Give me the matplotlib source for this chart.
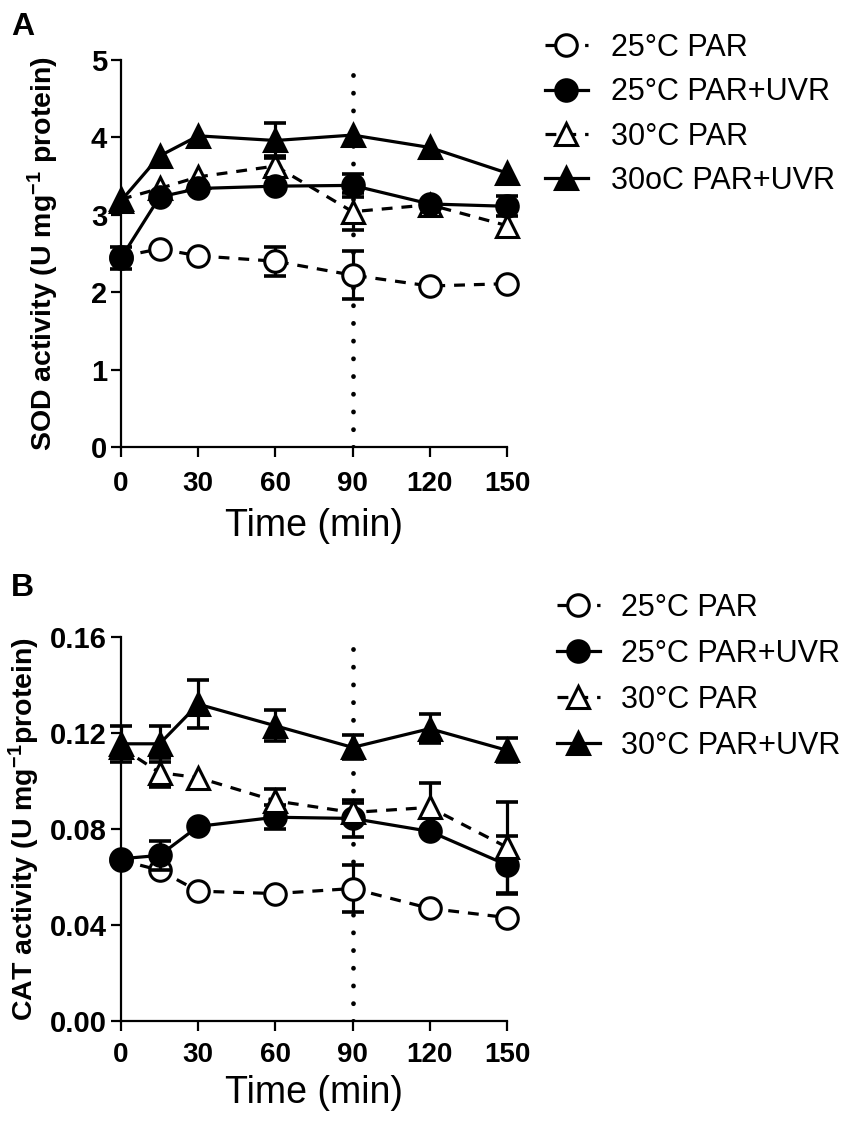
import numpy as np
import matplotlib
matplotlib.use("Agg")
import matplotlib.pyplot as plt

plt.rcParams['font.family'] = ['Liberation Sans', 'DejaVu Sans']
plt.rcParams['mathtext.fontset'] = 'custom'
plt.rcParams['mathtext.rm'] = 'Liberation Sans'
plt.rcParams['mathtext.bf'] = 'Liberation Sans:bold'
plt.rcParams['mathtext.it'] = 'Liberation Sans:italic'

# ---------------- data ----------------
time_min = [0, 15, 30, 60, 90, 120, 150]
light_change_time = 90

# Panel A: SOD activity
sod_25_par = [2.46, 2.56, 2.47, 2.40, 2.22, 2.08, 2.11]
sod_25_par_err = [0, 0, 0, 0.19, 0.31, 0, 0]
sod_25_paruvr = [2.44, 3.23, 3.34, 3.37, 3.38, 3.14, 3.11]
sod_25_paruvr_err = [0.14, 0, 0, 0, 0.15, 0, 0.13]
sod_30_par = [3.20, 3.34, 3.49, 3.63, 3.04, 3.13, 2.86]
sod_30_par_err = [0, 0, 0, 0.13, 0.24, 0, 0]
sod_30_paruvr = [3.18, 3.76, 4.02, 3.96, 4.03, 3.87, 3.54]
sod_30_paruvr_err = [0, 0, 0, 0.22, 0, 0, 0]

# Panel B: CAT activity
cat_25_par = [0.067, 0.0628, 0.0541, 0.0531, 0.0552, 0.0469, 0.0431]
cat_25_par_err = [0, 0, 0, 0, 0.0097, 0, 0]
cat_25_paruvr = [0.0676, 0.0690, 0.0811, 0.0849, 0.0844, 0.0790, 0.0650]
cat_25_paruvr_err = [0, 0.006, 0, 0.005, 0.0077, 0, 0.012]
cat_30_par = [0.114, 0.1035, 0.1014, 0.0917, 0.0869, 0.0890, 0.0724]
cat_30_par_err = [0, 0.0062, 0, 0.005, 0.004, 0.010, 0.019]
cat_30_paruvr = [0.1155, 0.1155, 0.1320, 0.1230, 0.1140, 0.1218, 0.1128]
cat_30_paruvr_err = [0.0075, 0.0075, 0.010, 0.0065, 0.005, 0.006, 0.005]

labels_A = ['25°C PAR', '25°C PAR+UVR', '30°C PAR', '30oC PAR+UVR']
labels_B = ['25°C PAR', '25°C PAR+UVR', '30°C PAR', '30°C PAR+UVR']

x_ticks = [0, 30, 60, 90, 120, 150]
yticks_A = [0, 1, 2, 3, 4, 5]
yticks_B = [0.00, 0.04, 0.08, 0.12, 0.16]

# ---------------- styles ----------------
LW = 2.3
MS = 15.5
MEW = 2.2
DASH = (0, (3.4, 2.8))
styles = [
    dict(marker='o', mfc='white', ls=DASH),
    dict(marker='o', mfc='black', ls='-'),
    dict(marker='^', mfc='white', ls=DASH),
    dict(marker='^', mfc='black', ls='-'),
]

W, H = 851, 1128
fig = plt.figure(figsize=(W / 100, H / 100), dpi=100)
axA = fig.add_axes([121 / W, 1 - 447 / H, 386 / W, 387 / H])
axB = fig.add_axes([121 / W, 1 - 1021 / H, 386 / W, 384 / H])


def draw(ax, series, errs, labels, zorders, xpad, xlabelpad):
    x = np.array(time_min, dtype=float)
    handles = []
    for (y, e, lab, st, z) in zip(series, errs, labels, styles, zorders):
        y = np.array(y, dtype=float)
        e = np.array(e, dtype=float)
        m = e > 0
        if m.any():
            ax.errorbar(x[m], y[m], yerr=e[m], fmt='none', ecolor='black',
                        elinewidth=LW, capsize=8, capthick=2.6,
                        zorder=z, clip_on=False)
        ln, = ax.plot(x, y, color='black', lw=LW, linestyle=st['ls'],
                      marker=st['marker'], ms=MS, mfc=st['mfc'], mec='black',
                      mew=MEW, zorder=z + 0.5, clip_on=False, label=lab,
                      dash_capstyle='butt')
        handles.append(ln)
    ax.axvline(light_change_time, color='black', lw=3.4,
               linestyle=(0, (0.05, 3.7)), dash_capstyle='round', zorder=0.5)
    ax.set_xlim(0, 150)
    ax.set_xticks(x_ticks)
    for s in ['top', 'right']:
        ax.spines[s].set_visible(False)
    for s in ['left', 'bottom']:
        ax.spines[s].set_linewidth(1.6)
    ax.tick_params(axis='both', direction='out', length=7, width=1.6)
    ax.tick_params(axis='x', labelsize=20, pad=xpad)
    ax.tick_params(axis='y', labelsize=21, pad=3)
    for t in ax.get_xticklabels() + ax.get_yticklabels():
        t.set_fontweight('bold')
    ax.set_xlabel('Time (min)', fontsize=27, labelpad=xlabelpad)
    return handles


hA = draw(axA, [sod_25_par, sod_25_paruvr, sod_30_par, sod_30_paruvr],
          [sod_25_par_err, sod_25_paruvr_err, sod_30_par_err, sod_30_paruvr_err],
          labels_A, [2, 4, 3, 5], 10, 8)
axA.set_ylim(0, 5)
axA.set_yticks(yticks_A)
axA.set_yticklabels([str(v) for v in yticks_A])
for t in axA.get_yticklabels():
    t.set_fontweight('bold')
axA.set_ylabel(r'SOD activity (U mg$^{\mathbf{-1}}$ protein)', fontsize=20.5,
               fontweight='bold')
axA.yaxis.set_label_coords(-0.155, 0.5)

hB = draw(axB, [cat_25_par, cat_25_paruvr, cat_30_par, cat_30_paruvr],
          [cat_25_par_err, cat_25_paruvr_err, cat_30_par_err, cat_30_paruvr_err],
          labels_B, [2, 3, 4, 5], 8, 5)
axB.set_ylim(0, 0.16)
axB.set_yticks(yticks_B)
axB.set_yticklabels(['%.2f' % v for v in yticks_B])
for t in axB.get_yticklabels():
    t.set_fontweight('bold')
axB.set_ylabel(r'CAT activity (U mg$^{\mathbf{-1}}$protein)', fontsize=20.5,
               fontweight='bold')
axB.yaxis.set_label_coords(-0.205, 0.5)

legA = axA.legend(handles=hA, loc='upper left', bbox_to_anchor=(545 / W, 1 - 33 / H),
                  bbox_transform=fig.transFigure, frameon=False, fontsize=22,
                  handlelength=1.4, handletextpad=0.75, labelspacing=0.47,
                  borderpad=0, borderaxespad=0, numpoints=1)
legB = axB.legend(handles=hB, loc='upper left', bbox_to_anchor=(557 / W, 1 - 593 / H),
                  bbox_transform=fig.transFigure, frameon=False, fontsize=22,
                  handlelength=1.4, handletextpad=0.7, labelspacing=0.52,
                  borderpad=0, borderaxespad=0, numpoints=1)

fig.text(11 / W, 1 - 35 / H, 'A', fontsize=23, fontweight='bold', ha='left', va='baseline')
fig.text(11 / W, 1 - 596 / H, 'B', fontsize=23, fontweight='bold', ha='left', va='baseline')

fig.savefig('out.png', dpi=100)
